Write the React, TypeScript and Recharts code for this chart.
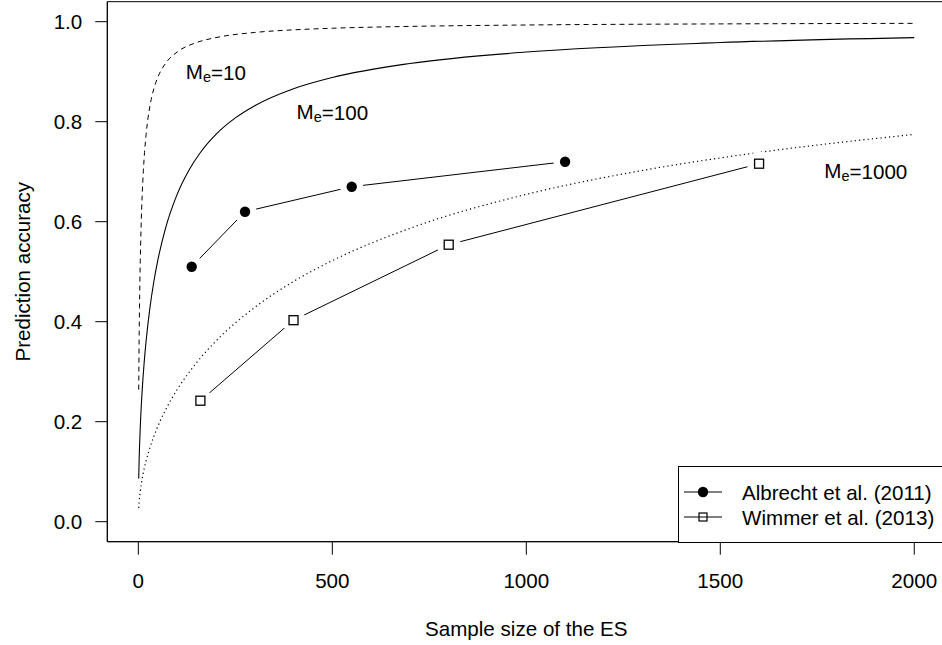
import React from "react";
import {
  ComposedChart,
  Line,
  Scatter,
  XAxis,
  YAxis,
  ReferenceArea,
  Label,
  Legend,
} from "recharts";

// M_e = 10 curve (dashed)
const me10N = [1, 2, 3, 4, 5, 7, 10, 13, 16, 20, 25, 30, 40, 50, 70, 100, 150, 200, 300, 400, 500, 700, 1000, 1500, 2000];
const me10V = [0.2641, 0.3612, 0.4286, 0.4804, 0.5222, 0.5867, 0.6547, 0.7026, 0.7385, 0.7746, 0.8076, 0.8321, 0.866, 0.8885, 0.9165, 0.9393, 0.9583, 0.9682, 0.9785, 0.9837, 0.9869, 0.9906, 0.9934, 0.9956, 0.9967];

// M_e = 100 curve (solid)
const me100N = [1, 2, 3, 5, 7.5, 10, 15, 20, 30, 40, 50, 70, 100, 130, 160, 200, 250, 300, 400, 500, 700, 1000, 1500, 2000];
const me100V = [0.0863, 0.1216, 0.1483, 0.1901, 0.2308, 0.2641, 0.318, 0.3612, 0.4286, 0.4804, 0.5222, 0.5867, 0.6547, 0.7026, 0.7385, 0.7746, 0.8076, 0.8321, 0.866, 0.8885, 0.9165, 0.9393, 0.9583, 0.9682];

// M_e = 1000 curve (dotted)
const me1000N = [1, 2, 5, 10, 20, 30, 50, 75, 100, 150, 200, 300, 400, 500, 700, 1000, 1300, 1600, 2000];
const me1000V = [0.0274, 0.0387, 0.0611, 0.0863, 0.1216, 0.1483, 0.1901, 0.2308, 0.2641, 0.318, 0.3612, 0.4286, 0.4804, 0.5222, 0.5867, 0.6547, 0.7026, 0.7385, 0.7746];

// Studies
const albrechtN = [137.5, 275, 550, 1100];
const albrechtV = [0.51, 0.62, 0.67, 0.72];
const wimmerN = [160, 400, 800, 1600];
const wimmerV = [0.242, 0.403, 0.554, 0.716];

// Curve labels
const labelN = [200, 500, 1875];
const labelV = [0.9, 0.82, 0.702];
const labelNum = ["10", "100", "1000"];

const xTicks = [0, 500, 1000, 1500, 2000];
const yTicks = [0, 0.2, 0.4, 0.6, 0.8, 1.0];

const legendNames = ["Albrecht et al. (2011)", "Wimmer et al. (2013)"];

const zip = (ns: number[], vs: number[]) => ns.map((n, i) => ({ n, v: vs[i] }));

const d10 = zip(me10N, me10V);
const d100 = zip(me100N, me100V);
const d1000 = zip(me1000N, me1000V);
const dAlb = zip(albrechtN, albrechtV);
const dWim = zip(wimmerN, wimmerV);
const dLab = labelN.map((n, i) => ({ n, v: labelV[i], num: labelNum[i] }));

const FONT = "'Liberation Sans', Arial, Helvetica, sans-serif";
const FS = 20.6;

const CircleDot = (props: any) => {
  const { cx, cy, index } = props;
  return (
    <g key={`c${index}`}>
      <circle cx={cx} cy={cy} r={11.5} fill="#fff" />
      <circle cx={cx} cy={cy} r={5.2} fill="#000" />
    </g>
  );
};

const SquareDot = (props: any) => {
  const { cx, cy, index } = props;
  return (
    <g key={`s${index}`}>
      <circle cx={cx} cy={cy} r={12} fill="#fff" />
      <rect x={cx - 4.5} y={cy - 4.5} width={9} height={9} fill="#fff" stroke="#000" strokeWidth={1.3} />
    </g>
  );
};

const CurveLabel = (props: any) => {
  const { cx, cy, payload } = props;
  return (
    <text x={cx} y={cy} textAnchor="middle" dominantBaseline="central" fontFamily={FONT} fontSize={FS} fill="#000">
      M
      <tspan fontSize={14.5} dy={5}>e</tspan>
      <tspan fontSize={FS} dy={-5}>={payload.num}</tspan>
    </text>
  );
};

const LegendBox = () => (
  <svg width={268} height={77} style={{ display: "block", overflow: "visible" }}>
    <rect x={0.5} y={0.5} width={267} height={76} fill="#fff" stroke="#000" strokeWidth={1} />
    <line x1={6} x2={44} y1={26} y2={26} stroke="#000" strokeWidth={1} />
    <circle cx={25} cy={26} r={5.2} fill="#000" />
    <line x1={6} x2={44} y1={51} y2={51} stroke="#000" strokeWidth={1} />
    <rect x={21} y={47} width={8} height={8} fill="none" stroke="#000" strokeWidth={1.2} />
    <text x={64} y={26} dominantBaseline="central" fontFamily={FONT} fontSize={FS} fill="#000">
      {legendNames[0]}
    </text>
    <text x={64} y={51} dominantBaseline="central" fontFamily={FONT} fontSize={FS} fill="#000">
      {legendNames[1]}
    </text>
  </svg>
);

const YTitle = (props: any) => {
  const { viewBox } = props;
  const cx = viewBox.x + 23;
  const cy = viewBox.y + viewBox.height / 2;
  return (
    <text x={cx} y={cy} transform={`rotate(-90 ${cx} ${cy})`} textAnchor="middle" dominantBaseline="central" fontFamily={FONT} fontSize={FS} fill="#000">
      Prediction accuracy
    </text>
  );
};

const XTitle = (props: any) => {
  const { viewBox } = props;
  const cx = viewBox.x + viewBox.width / 2;
  const cy = 628;
  return (
    <text x={cx} y={cy} textAnchor="middle" dominantBaseline="central" fontFamily={FONT} fontSize={FS} fill="#000">
      Sample size of the ES
    </text>
  );
};

export default function App() {
  return (
    <div style={{ position: "absolute", left: 0, top: 0, width: 942, height: 645, overflow: "hidden", background: "#fff" }}>
      <ComposedChart
        width={950}
        height={645}
        margin={{ top: 1.7, right: 4.7, bottom: 43.3, left: 0 }}
        style={{ fontFamily: FONT }}
      >
        <XAxis
          type="number"
          dataKey="n"
          domain={[-80, 2080]}
          ticks={xTicks}
          allowDataOverflow
          height={60}
          tickSize={13}
          tickMargin={19}
          axisLine={{ stroke: "#000" }}
          tickLine={{ stroke: "#000" }}
          tick={{ fill: "#000", fontSize: FS, fontFamily: FONT }}
        >
          <Label content={<XTitle />} />
        </XAxis>
        <YAxis
          type="number"
          domain={[-0.04, 1.04]}
          ticks={yTicks}
          allowDataOverflow
          width={107.3}
          tickSize={12}
          tickMargin={13}
          axisLine={{ stroke: "#000" }}
          tickLine={{ stroke: "#000" }}
          tick={{ fill: "#000", fontSize: FS, fontFamily: FONT }}
          tickFormatter={(v: number) => v.toFixed(1)}
        >
          <Label content={<YTitle />} />
        </YAxis>
        <ReferenceArea x1={-80} x2={2080} y1={-0.04} y2={1.04} fill="none" stroke="#000" strokeWidth={1} ifOverflow="visible" />
        <Line data={dAlb} dataKey="v" type="linear" stroke="#000" strokeWidth={1} dot={CircleDot} activeDot={false} isAnimationActive={false} legendType="none" />
        <Line data={dWim} dataKey="v" type="linear" stroke="#000" strokeWidth={1} dot={SquareDot} activeDot={false} isAnimationActive={false} legendType="none" />
        <Line data={d10} dataKey="v" type="monotone" stroke="#000" strokeWidth={1} strokeDasharray="5 4" dot={false} activeDot={false} isAnimationActive={false} legendType="none" />
        <Line data={d100} dataKey="v" type="monotone" stroke="#000" strokeWidth={1.1} dot={false} activeDot={false} isAnimationActive={false} legendType="none" />
        <Line data={d1000} dataKey="v" type="monotone" stroke="#000" strokeWidth={1.2} strokeDasharray="1.2 3.1" dot={false} activeDot={false} isAnimationActive={false} legendType="none" />
        <Scatter data={dLab} dataKey="v" shape={CurveLabel} isAnimationActive={false} legendType="none" />
        <Legend
          layout="horizontal"
          verticalAlign="middle"
          align="center"
          content={() => <LegendBox />}
          wrapperStyle={{ position: "absolute", left: 678, top: 465.5, width: 268, height: 77 }}
        />
      </ComposedChart>
    </div>
  );
}
